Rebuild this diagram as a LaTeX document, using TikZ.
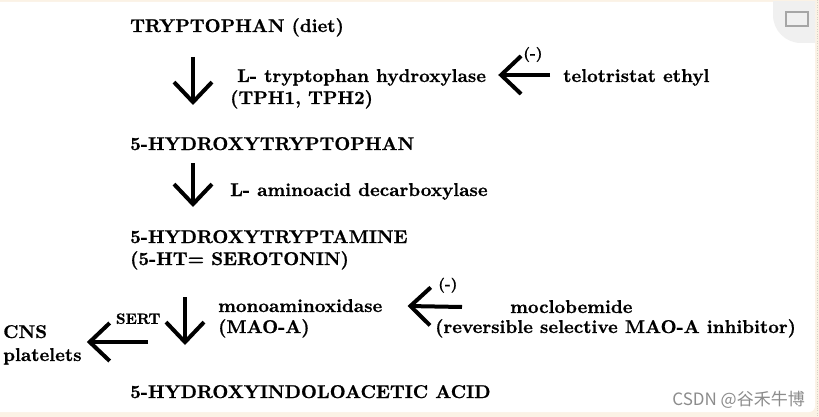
\documentclass[tikz,border=0pt]{standalone}
\usepackage{fontspec}
\newfontfamily\cjkfont{Noto Sans CJK SC}
\newfontfamily\pathfont{lmroman10-bold.otf}[FakeBold=0.8]
\usetikzlibrary{arrows.meta,positioning}
\definecolor{framebeige}{RGB}{251,242,229}
\definecolor{markgray}{RGB}{140,140,140}

\begin{document}
\begin{tikzpicture}[x=1pt, y=-1pt,
    txt/.style={inner sep=0pt, anchor=base west,
                font=\pathfont\fontsize{18.5}{23}\selectfont},
    small/.style={inner sep=0pt, font=\pathfont\fontsize{15}{17}\selectfont},
    bigarr/.style={line width=4pt, -{Straight Barb[length=20pt, width=38pt]}}
  ]
  \useasboundingbox (0,0) rectangle (819,417);
  % screenshot frame
  \fill[framebeige] (0,0) rectangle (819,417);
  \fill[white, rounded corners=6pt] (-10,2) rectangle (815,412);
  \draw[framebeige!70!gray, dotted] (817,0) -- (817,417);
  \begin{scope}
    \clip (0,2) rectangle (815,412);
    \fill[gray!12, rounded corners=28pt] (773,-40) rectangle (860,43);
  \end{scope}
  \draw[gray!70, line width=2pt] (786,12) rectangle (808,26);

  % pathway
  \node[txt] (trp)    at (130,32)  {TRYPTOPHAN (diet)};
  \node[txt] (tph)    at (237,82)  {L- tryptophan hydroxylase};
  \node[txt] (tphb)   at (230,104) {(TPH1, TPH2)};
  \node[txt] (telo)   at (563,82)  {telotristat ethyl};
  \node[txt] (htp)    at (130,150) {5-HYDROXYTRYPTOPHAN};
  \node[txt] (aadc)   at (230,196) {L- aminoacid decarboxylase};
  \node[txt] (sero)   at (130,243) {5-HYDROXYTRYPTAMINE};
  \node[txt] (serob)  at (130,265) {(5-HT= SEROTONIN)};
  \node[txt] (mao)    at (218,312) {monoaminoxidase};
  \node[txt] (maob)   at (218,333) {(MAO-A)};
  \node[txt] (moclo)  at (510,313) {moclobemide};
  \node[txt] (moclob) at (435,333) {(reversible selective MAO-A inhibitor)};
  \node[txt] (cns)    at (3,338)   {CNS};
  \node[txt] (plat)   at (3,361)   {platelets};
  \node[txt] (hiaa)   at (130,398) {5-HYDROXYINDOLOACETIC ACID};

  \draw[bigarr] ([shift={(63,25)}]trp.base west) -- ([shift={(63,-45)}]htp.base west);
  \draw[bigarr] ([shift={(63,13)}]htp.base west) -- ([shift={(63,-36)}]sero.base west);
  \draw[bigarr] ([shift={(55,32)}]serob.base west) -- ([shift={(55,-53)}]hiaa.base west);

  \draw[bigarr] ([shift={(-13,-7)}]telo.base west) -- ([shift={(12,-7)}]tph.base east)
    node[small, pos=0.33, above=11pt] (inh1) {(-)};
  \draw[bigarr] ([shift={(-48,-6)}]moclo.base west) -- ([shift={(25,-6)}]mao.base east)
    node[small, pos=0.26, above=12pt] (inh2) {(-)};
  \draw[bigarr] ([shift={(18,77)}]serob.base west) -- ([shift={(5,-19)}]plat.base east)
    node[small, pos=0.16, above=16pt] (sert) {SERT};

  \node[inner sep=0pt, anchor=base east, text=markgray,
        font=\cjkfont\fontsize{17}{20}\selectfont] (mark) at (805,405) {CSDN @谷禾牛博};
\end{tikzpicture}
\end{document}
